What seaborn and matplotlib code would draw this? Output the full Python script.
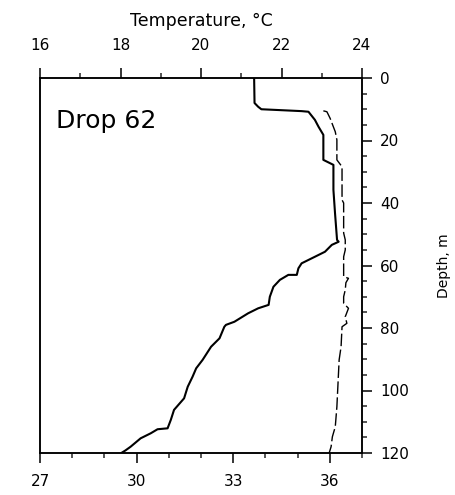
import matplotlib
matplotlib.use("Agg")
import matplotlib.pyplot as plt
import seaborn as sns
import pandas as pd
from matplotlib.ticker import MultipleLocator

# Temperature profile (depth in m, temperature in degC)
temp_depth = [0, 8.0, 9.2, 10.0, 10.3, 10.6, 10.8, 13.4, 15.6, 18.2, 26.2, 27.8,
              35.8, 43.3, 51.8, 52.4, 53.4, 55.6, 57.2, 59.3, 60.9, 63.0, 63.0,
              64.6, 66.8, 70.0, 72.6, 73.7, 75.3, 78.0, 79.0, 79.6, 83.3, 86.0,
              90.2, 92.9, 95.6, 98.8, 102.5, 106.2, 109.4, 112.1, 112.4, 113.7,
              115.3, 118.0, 119.2, 120.0]
temperature = [21.32, 21.33, 21.42, 21.50, 22.00, 22.50, 22.67, 22.83, 22.92,
               23.04, 23.04, 23.29, 23.29, 23.33, 23.38, 23.42, 23.25, 23.08,
               22.83, 22.50, 22.42, 22.38, 22.17, 21.96, 21.80, 21.71, 21.68,
               21.42, 21.17, 20.83, 20.62, 20.58, 20.46, 20.25, 20.04, 19.88,
               19.79, 19.67, 19.58, 19.33, 19.25, 19.17, 18.92, 18.75, 18.50,
               18.25, 18.12, 18.02]

# Salinity profile (depth in m, salinity)
sal_depth = [10.5, 10.8, 12.9, 15.6, 17.2, 19.8, 26.2, 28.4, 39.0, 40.0, 49.6,
             51.8, 55.0, 57.2, 63.6, 64.1, 65.5, 67.8, 70.0, 72.1, 73.7, 76.4,
             78.5, 79.6, 86.0, 90.2, 98.8, 105.2, 111.6, 114.8, 118.0, 120.0]
salinity = [35.80, 35.91, 36.01, 36.11, 36.17, 36.22, 36.22, 36.38, 36.38,
            36.43, 36.43, 36.48, 36.48, 36.43, 36.43, 36.58, 36.50, 36.48,
            36.43, 36.43, 36.58, 36.48, 36.53, 36.38, 36.35, 36.29, 36.25,
            36.22, 36.17, 36.08, 36.04, 35.98]

temp_ticks = [16, 18, 20, 22, 24]
sal_ticks = [27, 30, 33, 36]
depth_ticks = [0, 20, 40, 60, 80, 100, 120]

temp_df = pd.DataFrame({"depth": temp_depth, "temperature": temperature})
sal_df = pd.DataFrame({"depth": sal_depth, "salinity": salinity})

sns.set_style("ticks")
plt.rcParams["font.family"] = ["DejaVu Sans"]
plt.rcParams["text.color"] = "black"
plt.rcParams["axes.labelcolor"] = "black"
plt.rcParams["axes.linewidth"] = 1.1

W, H = 456, 495
fig = plt.figure(figsize=(W / 100, H / 100), dpi=100)
ax = fig.add_axes([40 / W, 1 - 453 / H, 322 / W, 375 / H])
ax2 = ax.twiny()

sns.lineplot(data=temp_df, x="temperature", y="depth", sort=False,
             estimator=None, orient="y", ax=ax, color="black", linewidth=1.5)
sns.lineplot(data=sal_df, x="salinity", y="depth", sort=False,
             estimator=None, orient="y", ax=ax2, color="black", linewidth=1.0,
             linestyle=(0, (9, 2.5)))

# depth axis on the right, increasing downward
ax.set_ylim(120, 0)
ax.yaxis.tick_right()
ax.yaxis.set_label_position("right")
ax.set_yticks(depth_ticks)
ax.yaxis.set_minor_locator(MultipleLocator(5))
ax.set_ylabel("Depth, m", fontsize=10, labelpad=20)

# temperature scale along the top
ax.set_xlim(16, 24)
ax.xaxis.tick_top()
ax.xaxis.set_label_position("top")
ax.set_xticks(temp_ticks)
ax.xaxis.set_minor_locator(MultipleLocator(1))
ax.set_xlabel("Temperature, \u00b0C", fontsize=12.5, labelpad=9)

# salinity scale along the bottom
ax2.set_xlim(27, 37)
ax2.xaxis.tick_bottom()
ax2.xaxis.set_label_position("bottom")
ax2.set_xticks(sal_ticks)
ax2.xaxis.set_minor_locator(MultipleLocator(1))
ax2.set_xlabel("")

for a in (ax, ax2):
    a.tick_params(which="major", direction="out", length=7, width=1.1,
                  labelsize=11, pad=8, colors="black")
    a.tick_params(which="minor", direction="out", length=3.5, width=1.1)
    for s in a.spines.values():
        s.set_visible(True)
        s.set_linewidth(1.1)
        s.set_color("black")
ax.tick_params(axis="x", which="major", pad=11)
ax.tick_params(axis="y", which="major", pad=6)

ax.text(0.05, 0.885, "Drop 62", transform=ax.transAxes, fontsize=18,
        va="center", ha="left")

fig.savefig("out.png", dpi=100, facecolor="white")
